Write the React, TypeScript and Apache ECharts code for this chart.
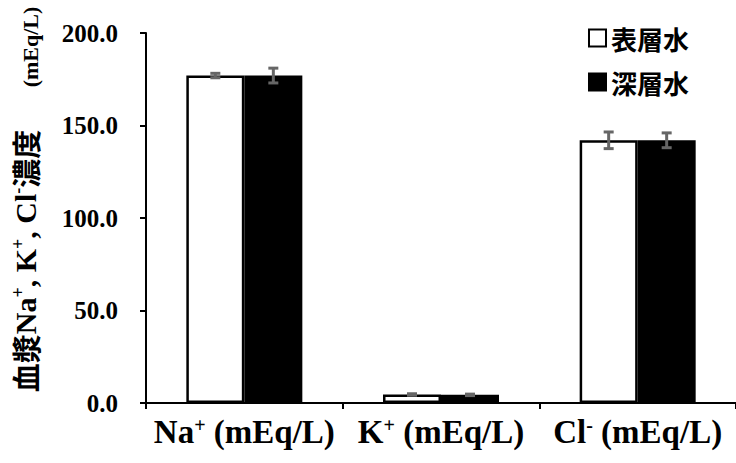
import React, { useEffect, useRef } from "react";
import * as echarts from "echarts";

const categories = ["Na", "K", "Cl"];
const categorySup = ["+", "+", "-"];
const seriesNames = ["表層水", "深層水"];
const surfaceValues = [177.0, 4.6, 142.0];
const surfaceErrors = [1.2, 0.4, 4.5];
const deepValues = [177.0, 4.4, 142.0];
const deepErrors = [4.0, 0.4, 4.0];
const yTicks = [0, 50, 100, 150, 200];
const yTitleMain = "{cjk|血漿}{lat|Na}{sup|+}{lat|, K}{sup|+}{lat|, Cl}{sup|-}{cjk|濃度}";
const yTitleUnit = "(mEq/L)";

const SERIF = "'Liberation Serif', 'Times New Roman', serif";
const CJKF = "'Noto Sans CJK JP', sans-serif";

export default function App() {
  const ref = useRef<HTMLDivElement>(null);
  useEffect(() => {
    if (!ref.current) return;
    const chart = echarts.init(ref.current, null, { renderer: "svg" });
    const barWidth = 58;
    const makeErr = (vals: number[], errs: number[], idx: number) => ({
      type: "custom",
      z: 10,
      silent: true,
      data: vals.map((v, i) => [i, v, errs[i]]),
      renderItem: (params: any, api: any) => {
        const x = api.value(0);
        const v = api.value(1);
        const e = api.value(2);
        const c = api.coord([x, v]);
        const hi = api.coord([x, v + e]);
        const lo = api.coord([x, v - e]);
        const cx = c[0] + (idx === 0 ? -barWidth / 2 : barWidth / 2);
        const cap = 5;
        const style = { stroke: "#666666", lineWidth: 3 };
        return {
          type: "group",
          children: [
            { type: "line", shape: { x1: cx, y1: hi[1], x2: cx, y2: lo[1] }, style },
            { type: "line", shape: { x1: cx - cap, y1: hi[1], x2: cx + cap, y2: hi[1] }, style },
            { type: "line", shape: { x1: cx - cap, y1: lo[1], x2: cx + cap, y2: lo[1] }, style },
          ],
        };
      },
    });
    const option: any = {
      animation: false,
      backgroundColor: "#ffffff",
      grid: { left: 146, right: 0, top: 33, bottom: 60, containLabel: false },
      graphic: [
        {
          type: "text",
          x: 25,
          y: 261,
          rotation: Math.PI / 2,
          silent: true,
          style: {
            text: yTitleMain,
            align: "center",
            verticalAlign: "middle",
            fill: "#000",
            rich: {
              cjk: { fontFamily: CJKF, fontWeight: "bold", fontSize: 29, fill: "#000", lineHeight: 32 },
              lat: { fontFamily: SERIF, fontWeight: "bold", fontSize: 30, fill: "#000", lineHeight: 32 },
              sup: { fontFamily: SERIF, fontWeight: "bold", fontSize: 18, fill: "#000", lineHeight: 18, verticalAlign: "top" },
            },
          },
        },
        {
          type: "text",
          x: 30,
          y: 47,
          rotation: Math.PI / 2,
          silent: true,
          style: {
            text: yTitleUnit,
            align: "center",
            verticalAlign: "middle",
            fill: "#000",
            fontFamily: SERIF,
            fontWeight: "bold",
            fontSize: 22,
          },
        },
      ],
      legend: {
        orient: "vertical",
        right: 42,
        top: 19,
        itemWidth: 17,
        itemHeight: 17,
        itemGap: 16,
        icon: "rect",
        textStyle: { fontFamily: CJKF, fontWeight: "bold", fontSize: 26, lineHeight: 28, color: "#000" },
        data: seriesNames,
      },
      xAxis: {
        type: "category",
        data: categories,
        axisLine: { lineStyle: { color: "#000", width: 2 } },
        axisTick: { show: true, length: 6, lineStyle: { color: "#000", width: 2 } },
        axisLabel: {
          margin: 12,
          formatter: (val: string, i: number) => `{a|${val}}{s|${categorySup[i]}}{a| (mEq/L)}`,
          rich: {
            a: { fontFamily: SERIF, fontWeight: "bold", fontSize: 33, color: "#000", lineHeight: 34 },
            s: { fontFamily: SERIF, fontWeight: "bold", fontSize: 20, color: "#000", lineHeight: 20, verticalAlign: "top" },
          },
        },
      },
      yAxis: {
        type: "value",
        min: yTicks[0],
        max: yTicks[yTicks.length - 1],
        interval: 50,
        splitLine: { show: false },
        axisLine: { show: true, lineStyle: { color: "#000", width: 2 } },
        axisTick: { show: true, length: 6, lineStyle: { color: "#000", width: 2 } },
        axisLabel: {
          margin: 28,
          fontFamily: SERIF,
          fontWeight: "bold",
          fontSize: 25,
          color: "#000",
          formatter: (v: number) => v.toFixed(1),
        },
      },
      series: [
        {
          name: seriesNames[0],
          type: "bar",
          data: surfaceValues,
          barWidth: barWidth,
          barGap: "0%",
          itemStyle: { color: "#ffffff", borderColor: "#000", borderWidth: 2.5 },
        },
        {
          name: seriesNames[1],
          type: "bar",
          data: deepValues,
          barWidth: barWidth,
          barGap: "0%",
          itemStyle: { color: "#000000", borderColor: "#000", borderWidth: 2.5 },
        },
        makeErr(surfaceValues, surfaceErrors, 0),
        makeErr(deepValues, deepErrors, 1),
      ],
    };
    chart.setOption(option);
    return () => chart.dispose();
  }, []);
  return <div ref={ref} style={{ width: 736, height: 463, position: "absolute", left: 0, top: 0 }} />;
}
